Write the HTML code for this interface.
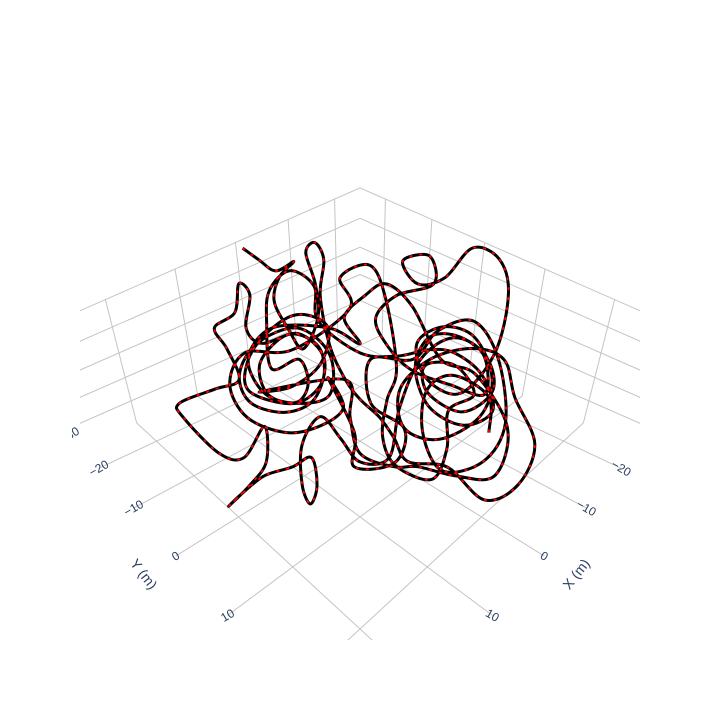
<!DOCTYPE html>
<html>
<head>
<meta charset="utf-8">
<style>
  html, body { margin: 0; padding: 0; background: #fff; }
  #chart { width: 720px; height: 720px; position: relative; }
  svg text { font-family: "Liberation Sans", "DejaVu Sans", sans-serif; fill: #2a3f5f; }
</style>
</head>
<body>
<div id="chart">
<svg id="svg" width="720" height="720" viewBox="0 0 720 720" xmlns="http://www.w3.org/2000/svg">
  <defs>
    <clipPath id="sceneClip"><rect x="80" y="80" width="560" height="560"/></clipPath>
    <clipPath id="labelClip"><rect x="72" y="80" width="570" height="640"/></clipPath>
  </defs>
  <g id="grid" clip-path="url(#sceneClip)"></g>
  <g id="labels" clip-path="url(#labelClip)"></g>
  <g id="curve"></g>
  <text x="140" y="577" font-size="14" text-anchor="middle" transform="rotate(52 140 577)">Y (m)</text>
  <text x="580" y="577" font-size="14" text-anchor="middle" transform="rotate(-52 580 577)">X (m)</text>
</svg>
</div>
<script>
// ---- data ----
const xTicks = [-20, -10, 0, 10, 20];
const yTicks = [-30, -20, -10, 0, 10, 20];
const zTicks = [2, 4, 6, 8, 10];
const xRange = [-26, 25];
const yRange = [-26, 25];
const zRange = [0, 10];

const xs = [-0.3,-0.7,-1.7,-4.7,-2.2,1.2,2.1,2.7,-0.5,-3.5,-5.5,-8.3,-7.3,-3.2,-1.3,-0.3,0.4,-0.45,1.2,1.7,
  -0.15,-0.35,-5.2,-10.2,-12,-13,-12.1,-8.7,-3,-0.3,-1.7,-6.8,-11,-11.8,-9.6,-6.7,-5.1,-7.8,-12,-18.8,
  -23.7,-23.5,-16,-13.6,-13.7,-17.4,-15.2,-10.7,-6,-4.9,-5.1,-8.3,-11,-13.3,-11,-6.7,-2,2.8,5.9,6,
  6.4,9.5,12.9,13.7,11.7,10.2,12.3,15.1,18.4,20.6,17.3,14,11.3,15.5,17.7,18.2,17.6,13.9,11.2,9.9,
  9.9,6.7,4,3.7,6.9,6.65,1.85,1.35,5.2,8.9,11.6,10.55,7.1,2,0.1,3.25,6.45,9.2,8.5,4.45,
  -0.95,-3.45,-3,-7.6,-10.5,-10.2,-9.6,-11.3,-9.45,-3.7,-0.45,1.55,3.6,5.5,3.05,0.65,
  10,8,4,0,1,5,9,11,7,3,0,2,7,9,6,3,2,6,4,1,-2,-3,-1,-3,-6,-9,
  -12,-13,-10,-5,-3,-5,-9,-13,-14,-11,-6,-4,-7,-11,-10,-6,-2,2,4,2,-2,-6,
  -9,-11,-7,-5,3,8,12,13,10,6,3,2,4,7,3,-1,0,-3,
  -7,-12,-16,-15,-10,-4,0,-1,-5,-9,-12,-8];
const ys = [-24.7,-21.4,-18.9,-18.4,-18.8,-15.8,-11.8,-8,-8.5,-12.3,-16.5,-17.7,-14.7,-11,-7.2,-3.1,0.4,3.15,7.2,10,
  14.5,19.85,21.3,20.2,15.7,12.9,8.7,4.6,4.3,7.5,11.9,14.1,12.7,9,5.6,3.7,6.8,10.3,12,9,
  4.1,-0.35,0.55,-2.2,-5.2,-3.4,-0.65,-3.5,-3,-0.1,4.2,8.3,12,9.6,6.3,4.5,5.2,7.9,5.9,2.6,
  -0.65,-0.75,3.2,5.6,4.5,1.85,0.75,-1.2,-1.4,-0.8,-1.15,-2.25,-6,-4.8,-6.7,-13.9,-15.6,-12.6,-10.9,-15.2,
  -17.7,-17.4,-19.9,-17.9,-14.7,-11.65,-9.95,-5.35,-3,-4.4,-8.1,-11.75,-12.1,-9.8,-5.7,-2.25,-4.45,-8.2,-12.5,-12.25,
  -6.85,-3.45,-6,-6.6,-5.3,-0.2,5.6,10.1,16.65,18.9,15.65,11.45,9.4,5.5,1.25,-2.15,
  -8,-4,-3,-6,-11,-13,-12,-9,-5,-4,-8,-12,-12,-8,-6,-7,-10,-11,-14,-17,-16,-12,-9,-3,1,4,
  6,10,14,13,9,5,4,6,10,13,12,8,5,7,11,10,13,14,10,6,3,1,
  -4,-9,-11,-7,-10,-14,-12,-7,-3,-1,0,-4,3,6,9,7,2,-1,
  3,3,6,11,16,17,14,10,7,8,12,15];
const zs = [9.8,9.5,9,9.2,8.5,8,7,6.5,8,9,10,10,9.5,8.5,6,4.5,4,3,3,2,
  2.5,1.5,1.5,3,5,7,7,6,5,3.5,3.5,4.5,6,8,8.5,7.5,6,5,7.5,9.5,
  10,10,9.5,9,10,10,9,8.5,8,7,6,5,4.5,6.5,7.5,6.5,4,2,2,3,
  4,2.5,1.5,1,1.5,2.5,2,1.5,1,1,1.5,2,3,2,2.5,3.5,4,5,5.5,6.5,
  7.5,8,9,8.5,7.5,7,7,6,4.5,4,4.5,5.5,7,7.5,6,4.5,4,4.5,6,7.5,
  7.5,6.5,8,8.5,9,8.5,6,5.5,3.5,2,2,2,2,2.5,3.5,5,
  5,6,7,8,8,7,6,5,4,5,6,6.5,5.5,4.5,3.5,4,5,5,7.5,8.5,9.5,9,7.5,6,6,6.5,
  6,5,4,4,5,6.5,7.5,7,6,5,4.5,5.5,6,5.5,4.5,4,3,2,2.5,3,4,5,
  8.5,9.5,9,8,6,6,5,4,3,3,4,5,3,2,2,3,4,6,
  6,7,7.5,6,3.5,2.5,2,3.5,5,5.5,4,3];

// ---- projection ----
function proj(x, y, z) {
  const u = x + y, v = x - y;
  const den = 1 - 0.0081 * u;
  const fy = (441.2 - 0.4 * u) / den;
  const fx = 360 - 5.09 * v / den;
  const zn = (z - zRange[0]) / (zRange[1] - zRange[0]);
  const k = 1 / (1 - 0.123 * zn);
  return [360 + (fx - 360) * k, 1303 - (1303 - fy) * k];
}
const NS = "http://www.w3.org/2000/svg";
const grid = document.getElementById('grid');
function line(a, b, name) {
  const l = document.createElementNS(NS, 'line');
  l.setAttribute('x1', a[0].toFixed(1)); l.setAttribute('y1', a[1].toFixed(1));
  l.setAttribute('x2', b[0].toFixed(1)); l.setAttribute('y2', b[1].toFixed(1));
  l.setAttribute('stroke', '#c4c4c4'); l.setAttribute('stroke-width', '1');
  
  
  grid.appendChild(l);
}
xTicks.forEach(t => line(proj(t, yRange[0], 0), proj(t, yRange[1] + 3, 0), 'floor-gridline-x'));
yTicks.forEach(t => { if (t > yRange[0]) line(proj(xRange[0], t, 0), proj(xRange[1] + 3, t, 0), 'floor-gridline-y'); });
xTicks.forEach(t => line(proj(t, yRange[0], 0), proj(t, yRange[0], zRange[1]), 'wall-gridline-x'));
zTicks.forEach(t => line(proj(xRange[0], yRange[0], t), proj(xRange[1] + 3, yRange[0], t), 'wall-gridline-z-left'));
yTicks.forEach(t => { if (t > yRange[0]) line(proj(xRange[0], t, 0), proj(xRange[0], t, zRange[1]), 'wall-gridline-y'); });
zTicks.forEach(t => line(proj(xRange[0], yRange[0], t), proj(xRange[0], yRange[1] + 3, t), 'wall-gridline-z-right'));

const labels = document.getElementById('labels');
yTicks.forEach(t => {
  if (t > 15) return;
  const p = proj(xRange[1] + 3, t, 0);
  const tx = document.createElementNS(NS, 'text');
  tx.setAttribute('x', p[0].toFixed(1)); tx.setAttribute('y', (p[1] + 4).toFixed(1));
  tx.setAttribute('font-size', '12'); tx.setAttribute('text-anchor', 'middle');
  tx.setAttribute('transform', 'rotate(-30 ' + p[0].toFixed(1) + ' ' + p[1].toFixed(1) + ')');
  tx.textContent = (t < 0 ? '\u2212' + (-t) : String(t));
  
  
  labels.appendChild(tx);
});
[-30].concat(xTicks).forEach(t => {
  if (t > 15) return;
  const p = proj(t, yRange[1] + 3, 0);
  const tx = document.createElementNS(NS, 'text');
  tx.setAttribute('x', p[0].toFixed(1)); tx.setAttribute('y', (p[1] + 4).toFixed(1));
  tx.setAttribute('font-size', '12'); tx.setAttribute('text-anchor', 'middle');
  tx.setAttribute('transform', 'rotate(30 ' + p[0].toFixed(1) + ' ' + p[1].toFixed(1) + ')');
  tx.textContent = (t < 0 ? '\u2212' + (-t) : String(t));
  
  
  labels.appendChild(tx);
});

const pts = xs.map((x, i) => proj(x, ys[i], zs[i]));
let d = 'M' + pts[0][0].toFixed(1) + ',' + pts[0][1].toFixed(1);
for (let i = 0; i < pts.length - 1; i++) {
  const p0 = pts[Math.max(i - 1, 0)], p1 = pts[i], p2 = pts[i + 1], p3 = pts[Math.min(i + 2, pts.length - 1)];
  const c1 = [p1[0] + (p2[0] - p0[0]) / 6, p1[1] + (p2[1] - p0[1]) / 6];
  const c2 = [p2[0] - (p3[0] - p1[0]) / 6, p2[1] - (p3[1] - p1[1]) / 6];
  d += 'C' + c1[0].toFixed(1) + ',' + c1[1].toFixed(1) + ' ' + c2[0].toFixed(1) + ',' + c2[1].toFixed(1) + ' ' + p2[0].toFixed(1) + ',' + p2[1].toFixed(1);
}
const curve = document.getElementById('curve');
const black = document.createElementNS(NS, 'path');
black.setAttribute('d', d); black.setAttribute('fill', 'none');
black.setAttribute('stroke', '#000'); black.setAttribute('stroke-width', '3');
black.setAttribute('stroke-linejoin', 'round');


curve.appendChild(black);
const red = document.createElementNS(NS, 'path');
red.setAttribute('d', d); red.setAttribute('fill', 'none');
red.setAttribute('stroke', '#ff0000'); red.setAttribute('stroke-width', '1.8');
red.setAttribute('stroke-dasharray', '3,7');


curve.appendChild(red);
</script>
</body>
</html>
